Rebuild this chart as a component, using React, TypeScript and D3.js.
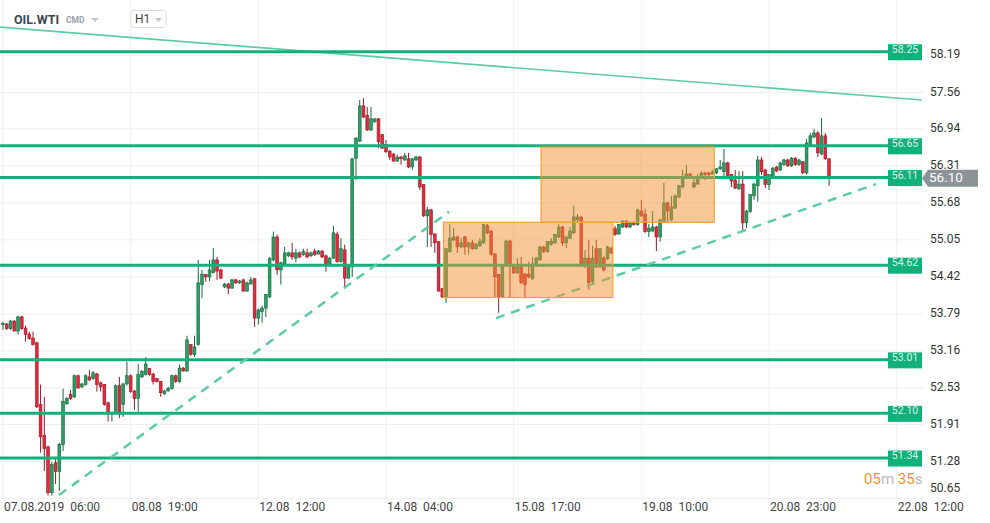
import React from 'react';
import * as d3 from 'd3';

const W = 990;
const H = 523;

const opens = [53.61,53.62,53.54,53.67,53.50,53.74,53.55,53.45,53.38,53.30,52.25,51.72,51.53,50.75,51.26,51.11,51.57,52.26,52.42,52.38,52.74,52.55,52.59,52.72,52.69,52.77,52.62,52.59,52.28,52.09,52.11,52.57,52.25,52.60,52.74,52.48,52.35,52.72,52.76,52.86,52.77,52.69,52.64,52.43,52.48,52.52,52.74,52.64,52.87,52.82,53.27,53.10,53.27,54.29,54.46,54.42,54.49,54.71,54.54,54.25,54.30,54.23,54.37,54.32,54.37,54.18,54.30,54.39,53.72,53.83,53.89,54.08,54.71,55.10,54.54,54.63,54.78,54.83,54.74,54.83,54.80,54.83,54.78,54.86,54.81,54.86,54.78,54.63,54.74,55.15,54.68,54.88,54.40,54.59,56.44,56.73,57.33,57.17,56.92,57.06,57.11,56.84,56.67,56.56,56.51,56.39,56.46,56.41,56.43,56.29,56.41,56.46,55.99,55.46,55.56,55.15,55.02,54.22,54.08,54.85,55.05,55.10,54.93,55.10,54.93,55.00,54.90,54.95,55.00,55.29,55.20,54.81,54.46,54.08,54.63,55.03,54.63,54.49,54.59,54.47,54.47,54.39,54.61,54.71,54.93,54.85,54.97,55.00,55.10,55.27,55.00,55.08,55.17,55.39,55.44,54.63,54.74,54.34,54.90,54.59,54.74,54.73,54.91,55.24,55.15,55.27,55.37,55.27,55.34,55.31,55.54,55.49,55.19,55.20,55.27,55.10,55.36,55.68,55.39,55.59,55.78,55.95,56.10,56.17,55.95,56.00,56.12,56.19,56.19,56.17,56.19,56.26,56.21,56.36,56.16,56.07,55.92,56.00,55.34,55.53,55.80,55.97,56.41,56.24,55.99,56.14,56.29,56.24,56.33,56.41,56.31,56.44,56.33,56.38,56.19,56.65,56.80,56.87,56.51,56.82,56.43];
const highs = [53.66,53.64,53.69,53.69,53.76,53.76,53.59,53.49,53.49,53.32,52.59,52.38,51.55,51.28,51.33,51.60,52.52,52.38,52.50,52.76,52.76,52.62,52.76,52.84,52.82,52.79,52.64,52.60,52.30,52.13,52.59,52.72,52.62,52.98,52.76,52.50,52.94,52.84,53.06,52.87,52.79,52.70,52.65,52.50,52.55,52.76,52.76,52.93,52.89,53.42,53.28,53.42,54.71,54.54,54.47,54.71,54.91,54.76,54.56,54.32,54.32,54.39,54.39,54.37,54.39,54.34,54.42,54.40,53.88,53.93,54.13,54.76,55.19,55.14,54.68,54.93,54.85,55.00,54.90,54.85,54.90,54.90,54.85,54.90,54.88,54.88,54.80,54.76,55.29,55.19,55.08,54.97,54.61,56.44,56.80,57.43,57.46,57.31,57.31,57.12,57.12,56.85,56.75,56.58,56.53,56.50,56.48,56.53,56.53,56.44,56.48,56.48,56.00,55.61,55.58,55.17,55.03,54.23,54.91,55.32,55.25,55.12,55.08,55.12,55.02,55.05,55.00,55.08,55.32,55.32,55.22,54.83,54.47,54.64,55.05,55.05,54.64,54.74,54.76,54.49,54.68,54.76,54.76,54.95,54.95,55.03,55.08,55.15,55.32,55.29,55.12,55.27,55.63,55.49,55.46,54.88,55.05,54.95,55.05,54.91,54.78,54.95,54.93,55.29,55.32,55.39,55.39,55.36,55.36,55.58,55.73,55.58,55.32,55.54,55.29,55.41,56.02,55.70,55.80,55.82,55.99,56.24,56.33,56.19,56.09,56.17,56.21,56.21,56.21,56.24,56.27,56.41,56.60,56.38,56.17,56.24,56.22,56.22,55.56,55.83,56.02,56.48,56.46,56.26,56.17,56.29,56.31,56.38,56.43,56.43,56.46,56.46,56.43,56.39,56.77,56.87,56.94,56.90,57.12,56.87,56.44];
const lows = [53.52,53.52,53.52,53.49,53.44,53.52,53.32,53.35,53.25,52.19,51.43,51.12,50.70,50.70,50.90,50.78,51.46,52.25,52.33,52.36,52.52,52.53,52.57,52.65,52.67,52.47,52.47,52.23,51.96,51.96,52.09,52.02,52.04,52.57,52.45,52.16,52.13,52.70,52.74,52.74,52.59,52.62,52.38,52.42,52.47,52.50,52.62,52.62,52.81,52.81,53.08,53.06,53.25,54.06,54.34,54.35,54.49,54.37,54.39,54.23,54.13,54.22,54.30,54.30,54.17,54.17,54.29,53.57,53.61,53.64,53.74,54.06,54.69,54.46,54.29,54.61,54.76,54.71,54.67,54.74,54.78,54.74,54.76,54.78,54.80,54.74,54.51,54.61,54.73,54.66,54.66,54.23,54.39,54.42,56.07,56.72,57.12,56.90,56.90,57.04,56.61,56.60,56.53,56.41,56.38,56.38,56.33,56.39,56.27,56.24,56.39,55.90,55.44,54.93,54.93,54.83,54.17,54.06,53.98,54.83,55.03,54.83,54.91,54.80,54.80,54.88,54.88,54.93,54.98,55.15,54.78,54.08,53.81,54.06,54.61,54.08,54.47,54.47,54.30,54.06,54.40,54.37,54.59,54.69,54.83,54.83,54.95,54.98,55.08,54.95,54.91,55.07,55.15,55.34,54.61,54.57,54.20,54.29,54.57,54.57,54.51,54.71,54.81,55.12,55.14,55.25,55.25,55.25,55.29,55.29,55.44,55.17,55.10,55.19,54.86,55.02,55.34,55.34,55.37,55.58,55.76,55.93,56.09,56.10,55.93,55.99,56.10,56.07,56.14,56.16,56.17,56.24,56.10,56.12,55.95,55.92,55.90,55.19,55.25,55.51,55.73,55.70,56.16,55.93,55.90,56.12,56.21,56.22,56.31,56.29,56.29,56.31,56.31,56.17,56.16,56.63,56.78,56.46,56.50,56.41,55.97];
const closes = [53.63,53.54,53.67,53.50,53.74,53.54,53.44,53.37,53.27,52.21,51.70,51.50,50.75,51.23,51.11,51.57,52.30,52.35,52.35,52.74,52.53,52.60,52.74,52.67,52.79,52.59,52.55,52.25,52.09,52.11,52.57,52.09,52.60,52.74,52.47,52.35,52.76,52.81,52.94,52.76,52.64,52.64,52.45,52.48,52.53,52.74,52.64,52.87,52.82,53.35,53.10,53.23,54.32,54.46,54.42,54.54,54.71,54.52,54.40,54.30,54.23,54.37,54.32,54.35,54.18,54.32,54.37,53.72,53.86,53.89,54.12,54.73,55.10,54.54,54.66,54.83,54.83,54.76,54.83,54.76,54.85,54.76,54.83,54.80,54.86,54.76,54.63,54.74,55.17,54.68,54.90,54.40,54.59,56.43,56.78,57.33,57.14,56.92,57.11,57.11,56.72,56.61,56.55,56.46,56.39,56.46,56.43,56.48,56.29,56.43,56.46,55.95,55.46,55.56,55.14,55.00,54.18,54.08,54.90,55.08,55.10,54.93,55.00,54.93,55.00,54.90,54.98,55.03,55.31,55.17,54.80,54.42,54.08,54.63,55.03,54.61,54.49,54.59,54.32,54.29,54.42,54.64,54.74,54.93,54.85,55.02,55.03,55.14,55.27,55.00,55.10,55.20,55.44,55.44,54.63,54.74,54.32,54.74,54.59,54.90,54.54,54.93,54.83,55.14,55.31,55.37,55.27,55.34,55.31,55.56,55.46,55.19,55.25,55.27,55.10,55.39,55.68,55.54,55.61,55.80,55.97,56.12,56.17,56.12,56.02,56.12,56.19,56.16,56.16,56.21,56.26,56.29,56.36,56.14,56.05,55.93,56.00,55.34,55.54,55.82,56.00,56.41,56.21,55.99,56.16,56.27,56.22,56.36,56.41,56.31,56.44,56.33,56.41,56.19,56.70,56.82,56.87,56.53,56.82,56.43,56.10];

const yTicks = [58.19, 57.56, 56.94, 56.31, 55.68, 55.05, 54.42, 53.79, 53.16, 52.53, 51.91, 51.28, 50.65];
const xTickIdx = [0, 34, 68, 102, 136, 170, 204, 238];
const xTickLabels = ['07.08.2019  06:00', '08.08  19:00', '12.08  12:00', '14.08  04:00', '15.08  17:00', '19.08  10:00', '20.08  23:00', '22.08  12:00'];
const levels = [58.25, 56.65, 56.11, 54.62, 53.01, 52.10, 51.34];
const lastPrice = 56.10;
const solidTrendIdx = [-0.8, 244.7];
const solidTrendPrice = [58.67, 57.43];
const dashedTrendIdx = [[14.9, 118.8], [131.3, 232.5]];
const dashedTrendPrice = [[50.71, 55.53], [53.72, 56.00]];
const boxIdx = [[117.3, 162.4], [143.3, 189.4]];
const boxPrice = [[55.35, 54.07], [56.63, 55.35]];

const FONT = 'Roboto, "Noto Sans", sans-serif';

export default function App() {
  const n = opens.length;
  const x = d3.scaleLinear().domain([0, n - 1]).range([3, 3 + (n - 1) * 3.755]);
  const y = d3.scaleLinear().domain([50.65, 58.19]).range([498.6, 55.3]);
  const plotRight = 923;
  const levelEnd = 888;
  const bottom = y(50.65);

  const candles = d3.range(n).map((i) => ({ i, o: opens[i], h: highs[i], l: lows[i], c: closes[i] }));
  const line = d3.line<[number, number]>().x((d) => x(d[0])).y((d) => y(d[1]));

  const green = '#2a9d63';
  const greenEdge = '#17683f';
  const red = '#e02a3c';
  const redEdge = '#9c1a29';
  const levelColor = '#12b07b';
  const trendColor = '#5ccda2';

  return (
    <svg width={W} height={H} style={{ position: 'absolute', left: 0, top: 0, background: '#fff' }} fontFamily={FONT}>
      <rect x={0} y={0} width={W} height={H} fill="#fff" />
      {/* grid */}
      {yTicks.map((t) => (
        <line key={'gy' + t} x1={0} x2={plotRight} y1={y(t)} y2={y(t)} stroke="#efefef" strokeWidth={1} />
      ))}
      {xTickIdx.map((t) => (
        <line key={'gx' + t} x1={x(t)} x2={x(t)} y1={0} y2={bottom} stroke="#efefef" strokeWidth={1} />
      ))}
      {/* solid trend line */}
      <path
        d={line([[solidTrendIdx[0], solidTrendPrice[0]], [solidTrendIdx[1], solidTrendPrice[1]]]) || ''}
        stroke={trendColor}
        strokeWidth={1.6}
        fill="none"
      />
      {/* candles */}
      {candles.map((d) => {
        const up = d.c >= d.o;
        const cx = x(d.i);
        const top = y(Math.max(d.o, d.c));
        const bot = y(Math.min(d.o, d.c));
        return (
          <g key={'c' + d.i}>
            <line x1={cx} x2={cx} y1={y(d.h)} y2={y(d.l)} stroke={up ? greenEdge : redEdge} strokeWidth={1} />
            <rect
              x={cx - 1.4}
              y={top}
              width={2.8}
              height={Math.max(1, bot - top)}
              fill={up ? green : red}
              stroke={up ? greenEdge : redEdge}
              strokeWidth={0.6}
            />
          </g>
        );
      })}
      {/* levels */}
      {levels.map((lv) => (
        <line key={'lv' + lv} x1={0} x2={levelEnd} y1={y(lv)} y2={y(lv)} stroke={levelColor} strokeWidth={3} />
      ))}
      {/* dashed trend lines */}
      {dashedTrendIdx.map((idx, k) => (
        <path
          key={'dt' + k}
          d={line([[idx[0], dashedTrendPrice[k][0]], [idx[1], dashedTrendPrice[k][1]]]) || ''}
          stroke={trendColor}
          strokeWidth={2.5}
          strokeDasharray="9 7"
          fill="none"
        />
      ))}
      {/* boxes */}
      {boxIdx.map((bi, k) => (
        <rect
          key={'bx' + k}
          x={x(bi[0])}
          y={y(boxPrice[k][0])}
          width={x(bi[1]) - x(bi[0])}
          height={y(boxPrice[k][1]) - y(boxPrice[k][0])}
          fill="rgba(242,146,50,0.5)"
          stroke="#f5a035"
          strokeWidth={1.2}
        />
      ))}
      {/* level labels */}
      {levels.map((lv) => (
        <g key={'ll' + lv}>
          <rect x={levelEnd} y={y(lv) - 7.5} width={34} height={16} fill={levelColor} />
          <text x={levelEnd + 17} y={y(lv) + 1} textAnchor="middle" fontSize={10.5} fill="#d6f5e6">
            {lv.toFixed(2)}
          </text>
        </g>
      ))}
      {/* y axis labels */}
      {yTicks.map((t) => (
        <text key={'yl' + t} x={930} y={Math.min(y(t), 489)} dominantBaseline="middle" fontSize={12} fill="#333">
          {t.toFixed(2)}
        </text>
      ))}
      {/* last price */}
      <g>
        <path
          d={`M${plotRight - 1},${y(lastPrice)} L${plotRight + 5},${y(lastPrice) - 8.5} L978,${y(lastPrice) - 8.5} L978,${y(lastPrice) + 8.5} L${plotRight + 5},${y(lastPrice) + 8.5} Z`}
          fill="#8b9396"
        />
        <text x={929} y={y(lastPrice)} dominantBaseline="middle" fontSize={13.5} fill="#fff">
          {lastPrice.toFixed(2)}
        </text>
      </g>
      {/* x axis labels */}
      {xTickIdx.map((t, k) => (
        <text key={'xl' + t} x={x(t) + 1} y={511} fontSize={12} fill="#444" style={{ whiteSpace: 'pre' }}>
          {xTickLabels[k]}
        </text>
      ))}
      {/* countdown */}
      <text x={864} y={484} fontSize={15} fill="#f7941d">
        05<tspan fill="#b8bcc0">m</tspan> 35<tspan fill="#b8bcc0">s</tspan>
      </text>
      {/* header */}
      <text x={14} y={24} fontSize={12.5} fontWeight="bold" fill="#3c4650">OIL.WTI</text>
      <text x={66} y={23} fontSize={8.5} fontWeight="bold" fill="#9aa1a8">CMD</text>
      <path d="M91,18 L99,18 L95,22 Z" fill="#c4c8cc" />
      <rect x={131} y={10.5} width={35} height={17} rx={3} fill="#fff" stroke="#dedede" />
      <text x={135} y={23} fontSize={12} fill="#444">H1</text>
      <path d="M155,18 L162,18 L158.5,22 Z" fill="#c4c8cc" />
    </svg>
  );
}
